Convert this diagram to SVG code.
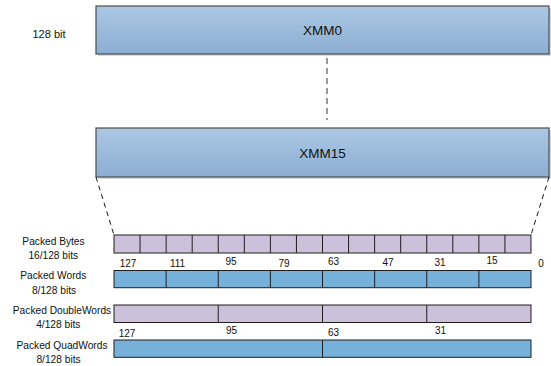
<svg xmlns="http://www.w3.org/2000/svg" width="551" height="366" viewBox="0 0 551 366">
<defs>
<linearGradient id="reg" x1="0" y1="0" x2="0" y2="1">
<stop offset="0" stop-color="#abc7e3"/>
<stop offset="1" stop-color="#8caed3"/>
</linearGradient>
<style>
.reg{fill:url(#reg);stroke:#4d4d4d;stroke-width:1.2}
.shadow{fill:#d6d6d6}
.byte{fill:#ccc1da;stroke:#1f1f1f;stroke-width:1}
.word{fill:#77b1da;stroke:#1f1f1f;stroke-width:1}
.div{stroke:#1f1f1f;stroke-width:1}
text{font-family:"Liberation Sans",Arial,sans-serif;fill:#111}
.big{font-size:13.5px;text-anchor:middle}
.lbl{font-size:10.2px;text-anchor:middle}
.num{font-size:10px;text-anchor:middle}
.dash{fill:none;stroke:#7a7a7a;stroke-width:1.5;stroke-dasharray:6 4}
.diag{fill:none;stroke:#1a1a1a;stroke-width:1;stroke-dasharray:5 4}
</style>
</defs>
<rect width="551" height="366" fill="#ffffff"/>

<g id="label-128bit">
<text x="49" y="38" style="font-size:11px;text-anchor:middle">128 bit</text>
</g>

<g id="xmm0">
<rect class="shadow" x="98" y="8" width="453" height="48"/>
<rect class="reg" x="96" y="6" width="453" height="48"/>
<text class="big" x="322.5" y="35">XMM0</text>
</g>

<g id="xmm15">
<rect class="shadow" x="98" y="130" width="453" height="49"/>
<rect class="reg" x="96" y="128" width="453" height="49"/>
<text class="big" x="322.5" y="158">XMM15</text>
</g>

<g id="connectors">
<line class="dash" x1="327" y1="58" x2="327" y2="120"/>
<line class="diag" x1="96" y1="177" x2="114" y2="235"/>
<line class="diag" x1="549" y1="177" x2="531" y2="235"/>
</g>

<g id="packed-bytes">
<text class="lbl" x="53.5" y="244.5">Packed Bytes</text>
<text class="lbl" x="53.3" y="259">16/128 bits</text>
<rect class="byte" x="114" y="235" width="417" height="18"/>
<path class="div" d="M140.06 235v18M166.13 235v18M192.19 235v18M218.25 235v18M244.31 235v18M270.38 235v18M296.44 235v18M322.5 235v18M348.56 235v18M374.63 235v18M400.69 235v18M426.75 235v18M452.81 235v18M478.88 235v18M504.94 235v18"/>
<text class="num" x="128" y="266.5">127</text>
<text class="num" x="177.5" y="266.5">111</text>
<text class="num" x="231" y="265">95</text>
<text class="num" x="284" y="266.7">79</text>
<text class="num" x="333.5" y="265.3">63</text>
<text class="num" x="388" y="265.7">47</text>
<text class="num" x="440" y="266">31</text>
<text class="num" x="492" y="264.3">15</text>
<text class="num" x="541" y="266.7">0</text>
</g>

<g id="packed-words">
<text class="lbl" x="53.3" y="279">Packed Words</text>
<text class="lbl" x="54" y="293.5">8/128 bits</text>
<rect class="word" x="114" y="270.5" width="417" height="17.2"/>
<path class="div" d="M166.13 270.5v17.2M218.25 270.5v17.2M270.38 270.5v17.2M322.5 270.5v17.2M374.63 270.5v17.2M426.75 270.5v17.2M478.88 270.5v17.2"/>
</g>

<g id="packed-doublewords">
<text class="lbl" x="62" y="313.5">Packed DoubleWords</text>
<text class="lbl" x="58.3" y="328">4/128 bits</text>
<rect class="byte" x="114" y="305" width="417" height="17.5"/>
<path class="div" d="M218.25 305v17.5M322.5 305v17.5M426.75 305v17.5"/>
<text class="num" x="127" y="336.7">127</text>
<text class="num" x="231.5" y="334">95</text>
<text class="num" x="333.5" y="336">63</text>
<text class="num" x="440.5" y="333.5">31</text>
</g>

<g id="packed-quadwords">
<text class="lbl" x="62" y="348.5">Packed QuadWords</text>
<text class="lbl" x="58.5" y="363">8/128 bits</text>
<rect class="word" x="114" y="340" width="417" height="17.3"/>
<path class="div" d="M322.5 340v17.3"/>
</g>
</svg>
